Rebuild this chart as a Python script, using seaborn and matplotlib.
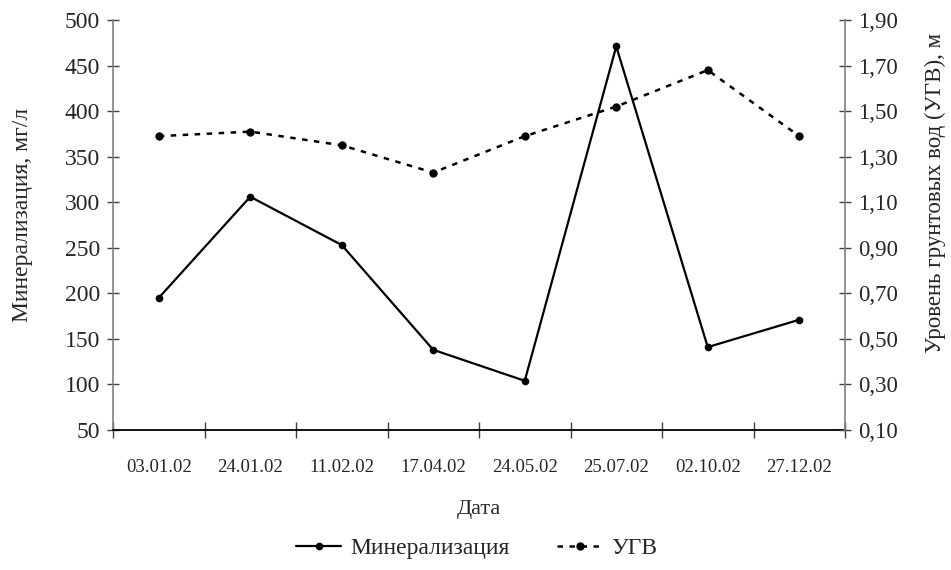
import matplotlib
matplotlib.use("Agg")
import matplotlib.pyplot as plt
from matplotlib.ticker import FixedLocator, FuncFormatter, NullFormatter
from matplotlib.lines import Line2D
import seaborn as sns
import pandas as pd

dates = ["03.01.02", "24.01.02", "11.02.02", "17.04.02", "24.05.02", "25.07.02", "02.10.02", "27.12.02"]
mineral = [195, 306, 253, 138, 104, 471, 141, 171]
ugv = [1.39, 1.41, 1.35, 1.23, 1.39, 1.52, 1.68, 1.39]

df = pd.DataFrame({"Дата": dates, "Минерализация": mineral, "УГВ": ugv})

sns.set_theme(style="white")
plt.rcParams["font.family"] = ["Liberation Serif", "DejaVu Serif"]

fig = plt.figure(figsize=(9.51, 5.70), dpi=100)
ax = fig.add_axes([113 / 951, 1 - 430 / 570, (845 - 113) / 951, 410 / 570])
ax2 = ax.twinx()

dash = (0, (2.2, 2.6))
sns.lineplot(data=df, x="Дата", y="Минерализация", ax=ax, color="black", lw=1.6,
             marker="o", markersize=5.5, markeredgewidth=0, sort=False)
sns.lineplot(data=df, x="Дата", y="УГВ", ax=ax2, color="black", lw=1.8,
             marker="o", markersize=6, markeredgewidth=0, sort=False,
             linestyle=dash)

n = len(dates)
ax.set_xlim(-0.5, n - 0.5)
ax.set_ylim(50, 500)
ax2.set_ylim(0.10, 1.90)

ax.yaxis.set_major_locator(FixedLocator(list(range(50, 501, 50))))
ax2.yaxis.set_major_locator(FixedLocator([0.1 + 0.2 * i for i in range(10)]))
ax2.yaxis.set_major_formatter(FuncFormatter(lambda v, p: f"{v:.2f}".replace(".", ",")))

ax.xaxis.set_major_locator(FixedLocator([i - 0.5 for i in range(n + 1)]))
ax.xaxis.set_major_formatter(NullFormatter())
ax.xaxis.set_minor_locator(FixedLocator(list(range(n))))
ax.set_xticklabels(dates, minor=True)

ax.tick_params(axis="x", which="major", direction="inout", length=11, width=1, color="#404040", bottom=True)
ax.tick_params(axis="x", which="minor", length=0, pad=21, labelsize=13.5)
ax.tick_params(axis="y", direction="inout", length=9, width=1, color="#404040", left=True, labelsize=17, pad=5)
ax2.tick_params(axis="y", direction="inout", length=9, width=1, color="#404040", right=True, labelsize=16.5, pad=5)

for a in (ax, ax2):
    a.spines["top"].set_visible(False)
    a.grid(False)
ax.spines["right"].set_visible(False)
ax2.spines["left"].set_visible(False)
ax2.spines["bottom"].set_visible(False)
ax.spines["left"].set_color("#808080")
ax2.spines["right"].set_color("#808080")
ax.spines["bottom"].set_color("black")
ax.spines["bottom"].set_linewidth(1.3)
ax.spines["left"].set_linewidth(1.2)
ax2.spines["right"].set_linewidth(1.2)

ax.set_xlabel("Дата", fontsize=16, labelpad=17)
ax.set_ylabel("Минерализация, мг/л", fontsize=17)
ax2.set_ylabel("Уровень грунтовых вод (УГВ), м", fontsize=16.5)
ax.yaxis.set_label_coords((33 - 113) / 732, (430 - 215) / 410)
ax2.yaxis.set_label_coords((925 - 113) / 732, (430 - 193) / 410)

for a in (ax, ax2):
    if a.get_legend() is not None:
        a.get_legend().remove()

handles = [
    Line2D([], [], color="black", lw=1.6, marker="o", markersize=5.5, markeredgewidth=0),
    Line2D([], [], color="black", lw=1.8, marker="o", markersize=6, markeredgewidth=0,
           linestyle=dash),
]
fig.legend(handles, ["Минерализация", "УГВ"], loc="center", bbox_to_anchor=(477 / 951, 1 - 548 / 570),
           ncol=2, frameon=False, fontsize=17, handlelength=1.9, handletextpad=0.4, columnspacing=2.0)

fig.savefig("out.png", dpi=100)
